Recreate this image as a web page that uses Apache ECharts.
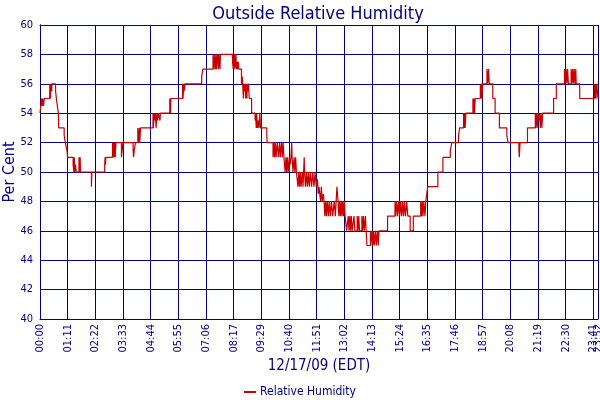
<!DOCTYPE html>
<html>
<head>
<meta charset="utf-8">
<script src="https://cdn.jsdelivr.net/npm/echarts@6/dist/echarts.min.js"></script>
<style>html,body{margin:0;padding:0;background:#fff;}#c{width:600px;height:400px;}</style>
</head>
<body>
<div id="c"></div>
<script>
// Tick labels shown along the time axis (one every 71 minutes)
var tickLabels = ['00:00','01:11','02:22','03:33','04:44','05:55','07:06','08:17','09:29','10:40',
  '11:51','13:02','14:13','15:24','16:35','17:46','18:57','20:08','21:19','22:30','23:41'];
// Label of the last reading (end of the axis)
var lastLabel = '23:52';
// Minutes after midnight at which the reading changed
var readingMinutes = [0,4,5,7,9,11,25,27,28,30,31,40,42,47,48,62,65,69,71,85,87,88,89,91,93,100,101,103,104,132,133,
  166,167,168,169,186,187,189,190,192,193,195,209,213,239,240,242,245,251,252,255,256,258,
  290,291,293,294,296,298,300,302,304,308,309,333,335,336,366,367,369,370,372,415,418,
  444,446,448,450,452,453,456,458,459,462,463,494,496,499,500,503,504,506,507,509,510,
  517,519,520,522,523,525,526,528,529,531,532,534,535,537,543,552,553,555,556,558,560,562,564,566,582,583,
  598,600,602,604,606,609,612,615,617,620,622,624,626,629,631,633,635,637,640,642,644,646,647,649,652,654,656,658,
  660,662,664,666,668,670,673,675,678,679,681,684,686,689,691,694,697,700,703,706,709,712,
  714,716,718,720,722,724,727,729,731,733,735,737,740,742,745,748,751,753,755,758,762,765,767,769,771,773,775,777,779,781,783,
  787,791,793,795,797,799,801,806,808,814,816,818,820,826,828,830,832,835,837,839,848,849,852,854,856,858,861,863,866,868,870,
  892,911,913,915,918,920,923,925,928,930,933,935,938,941,944,950,958,977,979,981,983,985,988,990,995,
  1021,1034,1053,1057,1074,1077,1087,1088,1090,1091,1093,1111,1112,1114,1115,1117,1130,1131,1133,1134,1136,
  1147,1149,1151,1153,1162,1168,1179,1198,1201,1229,1230,1232,1251,1271,1272,1274,1276,1278,1280,1282,1284,1286,1288,1290,
  1318,1325,1346,1348,1350,1352,1354,1356,1363,1365,1367,1369,1371,1373,1375,1376,1385,1423,1424,1426,1427,1429,1432];
// Relative humidity (%) from each of those minutes on
var humidity = [54,55,54.5,55,54.5,55,56,55,56,55.5,56,55.5,55,54,53,52.5,52,51.5,51,50.5,50,51,50,50.5,50,51,50,51,50,49,50,
  50.5,51,50.5,51,52,51,52,51,52,51,52,51,52,51.5,51,51.5,52,53,52,53,52,53,
  54,53,54,53.5,54,53,54,53.5,54,53.5,54,55,54,55,56,55,56,55.5,56,56.5,57,
  58,57,58,57,58,57,58,57,58,57,58,57.5,57,58,57,58,57,57.5,57,57.5,57,
  56,56.5,56,55,56,55.5,56,55,56,55,56,55.5,56,55,54,53.5,54,53,54,53,53.5,53,54,53,52.5,52,
  51,52,51,52,51,52,51,52,51,52,51,52,51,50,51,50,51,50,51,50.5,51,52,51,50,51,50,51,50,
  49.5,49,50,49,50,49,50,49,51,50,49,50,49,50,49,50,49,50,49,50,49,49.5,
  48.5,49,48.5,48,49,48,48.5,48,47,48,47,48,47,48,47,48,47,47.5,48,47,49,48,47,48,47,48,47,48,47,48,47,
  46,47,46,47,46,47,46,47,46,47,46,47,46,47,46,47,46,47,46,45,46,45,46,45,46,45,46,45,46,45,46,
  47,48,47,48,47,48,47,48,47,48,47,48,47,48,47,46,47,48,47,48,47,48,47,48,49,
  50,51,51.5,52,52.5,53,54,53,54,53,54,55,54,55,54,55,56,55,56,55,56,
  57,56,57,56,55,54,53,52.5,52,51.5,51,52,53,54,53,54,53,54,53.5,54,53,54,53,54,
  55,56,57,56,57,56,57,56,57,56,57,56,57,56,57,56,55,56,55,56,55,56,55];
// Y-axis range
var yMin = 40, yMax = 60, yStep = 2;

var NAVY = '#000080';
var FONT = 'DejaVu Sans Condensed, DejaVu Sans, sans-serif';
var seriesData = readingMinutes.map(function (m, i) { return [m, humidity[i]]; });
var lastMinute = readingMinutes[readingMinutes.length - 1];
var labelStyle = {rotate: 90, color: NAVY, fontSize: 11, fontFamily: FONT, margin: 5, hideOverlap: false};

var chart = echarts.init(document.getElementById('c'), null, {renderer: 'canvas'});
chart.setOption({
  animation: false,
  backgroundColor: '#ffffff',
  title: {
    text: 'Outside Relative Humidity',
    left: 313, top: 0, textAlign: 'center',
    textStyle: {color: NAVY, fontSize: 18, fontWeight: 'normal', fontFamily: FONT}
  },
  legend: {
    data: ['Relative Humidity'],
    left: 'center', top: 381,
    icon: 'rect', itemWidth: 12, itemHeight: 2, itemGap: 4,
    textStyle: {color: NAVY, fontSize: 12, fontFamily: FONT, padding: [0, 0, 0, -1]}
  },
  grid: {left: 40, right: 2, top: 25, bottom: 81, containLabel: false, outerBoundsMode: 'none'},
  xAxis: [{
    type: 'value',
    min: 0, max: lastMinute, interval: 71,
    name: '12/17/09 (EDT)', nameLocation: 'middle', nameGap: 40, nameMoveOverlap: false,
    nameTextStyle: {color: NAVY, fontSize: 15, fontFamily: FONT},
    axisLine: {show: true, lineStyle: {color: NAVY, width: 1}},
    axisTick: {show: false},
    axisLabel: Object.assign({
      showMinLabel: true, showMaxLabel: false,
      formatter: function (v, idx) { return tickLabels[idx] || ''; }
    }, labelStyle),
    splitLine: {show: true, lineStyle: {color: NAVY, width: 1}}
  }, {
    type: 'value', position: 'top', min: 0, max: lastMinute, show: true,
    axisLine: {show: true, lineStyle: {color: NAVY}}, axisTick: {show: false},
    axisLabel: {show: false}, splitLine: {show: false}
  }, {
    type: 'value', position: 'bottom', min: 0, max: lastMinute, interval: lastMinute, show: true,
    axisLine: {show: false}, axisTick: {show: false}, splitLine: {show: false},
    axisLabel: Object.assign({
      showMinLabel: false, showMaxLabel: true,
      formatter: function (v) { return v === lastMinute ? lastLabel : ''; }
    }, labelStyle)
  }],
  yAxis: [{
    type: 'value',
    min: yMin, max: yMax, interval: yStep,
    name: 'Per Cent', nameLocation: 'middle', nameGap: 22, nameMoveOverlap: false,
    nameTextStyle: {color: NAVY, fontSize: 16, fontFamily: FONT},
    axisLine: {show: true, lineStyle: {color: NAVY, width: 1}},
    axisTick: {show: false},
    axisLabel: {color: NAVY, fontSize: 11, fontFamily: FONT, margin: 7},
    splitLine: {show: true, lineStyle: {color: NAVY, width: 1}}
  }, {
    type: 'value', position: 'right', min: yMin, max: yMax, show: true,
    axisLine: {show: true, lineStyle: {color: NAVY}}, axisTick: {show: false},
    axisLabel: {show: false}, splitLine: {show: false}
  }],
  series: [{
    name: 'Relative Humidity',
    type: 'line',
    step: 'end',
    showSymbol: false,
    symbol: 'none',
    color: '#c80000',
    lineStyle: {color: '#c80000', width: 1.2},
    data: seriesData
  }]
});
</script>
</body>
</html>
